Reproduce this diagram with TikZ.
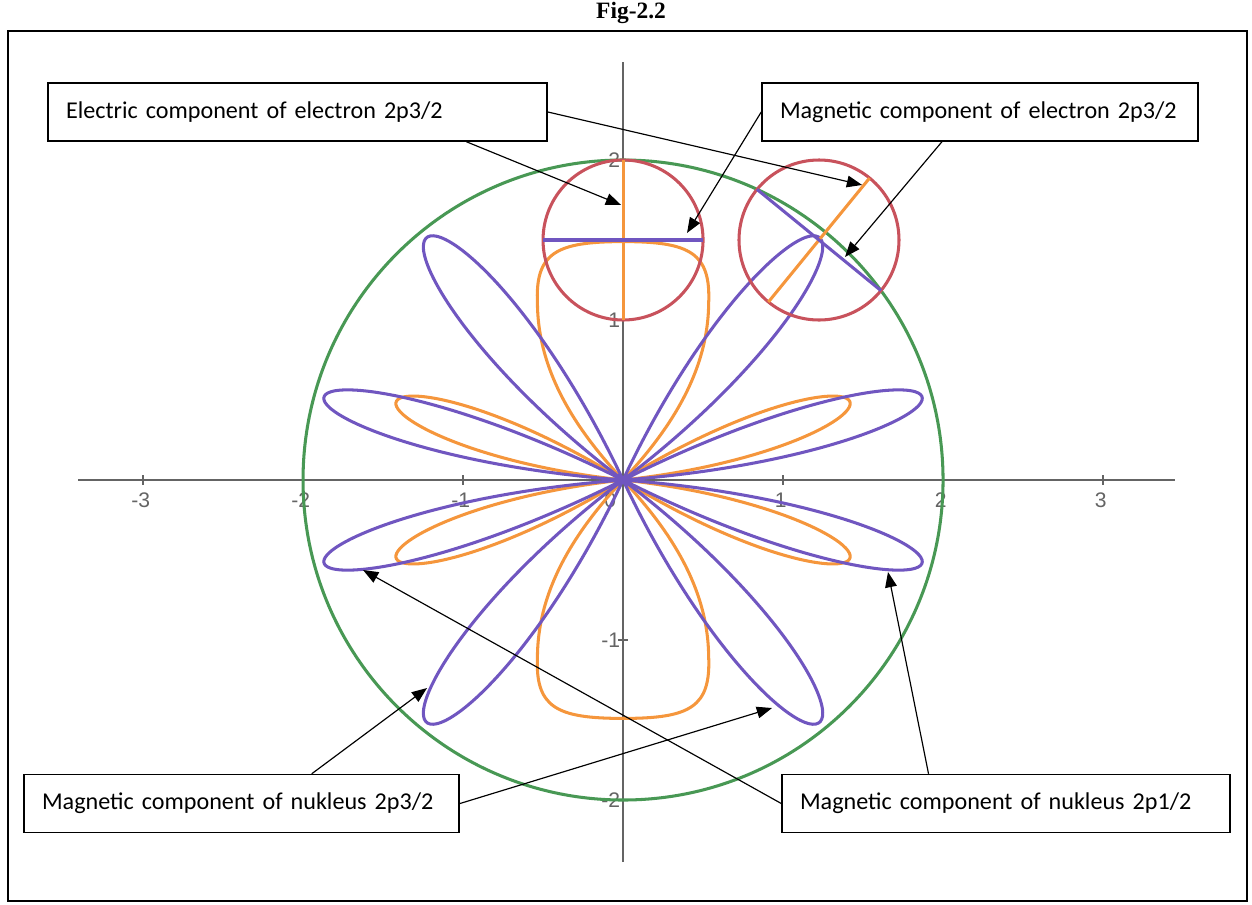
\documentclass[tikz,border=0pt]{standalone}
\usepackage{fontspec}
\setmainfont{Carlito}
\newfontfamily\axisfont{Liberation Sans}
\newfontfamily\titlefont{Liberation Serif}
\usetikzlibrary{arrows.meta}
\usetikzlibrary{positioning}
\definecolor{ringgreen}{RGB}{72,152,84}
\definecolor{ringred}{RGB}{200,82,92}
\definecolor{elecorange}{RGB}{245,150,60}
\definecolor{magnpurple}{RGB}{112,86,192}
\definecolor{axisgrey}{RGB}{100,100,100}

\begin{document}
\begin{tikzpicture}[x=2.4cm,y=2.4cm,
        lbl/.style={draw, rectangle, fill=white, line width=0.65pt, minimum height=0.87cm, inner xsep=0.27cm, align=left, font=\fontsize{10.3}{12}\selectfont},
        ticklbl/.style={font=\axisfont\fontsize{9}{10}\selectfont, text=axisgrey, inner sep=0pt},
        axisline/.style={draw=axisgrey, line width=0.85pt},
        elec/.style={draw=elecorange, line width=1.3pt},
        magn/.style={draw=magnpurple, line width=1.3pt},
        ring/.style={draw=ringred, line width=1.3pt},
        >={Triangle[length=6.5pt,width=5pt]}]
        \useasboundingbox (-3.894,-2.65) rectangle (3.931,3.0);
        \draw[line width=0.85pt] (-3.844,-2.631) rectangle (3.9,2.806);
        \node[font=\titlefont\bfseries\fontsize{10}{12}\selectfont] (title) at (0.05,2.92) {Fig-2.2};

        % axes
        \draw[axisline] (-3.406,0) -- (3.45,0);
        \draw[axisline] (0,-2.3875) -- (0,2.6125);
        \foreach \k in {-3,-2,-1,1,2,3} {
            \draw[axisline] (\k,-0.03) -- (\k,0.03);
            \node[ticklbl] (xl\k) at (\k-0.015,-0.125) {\k};
        }
        \foreach \k in {-2,-1,1,2} {
            \draw[axisline] (-0.03,\k) -- (0.03,\k);
            \node[ticklbl, anchor=east] (yl\k) at (-0.015,\k) {\k};
        }
        \node[ticklbl] (zero) at (-0.08,-0.125) {0};

        \draw[draw=ringgreen, line width=1.3pt] (0,0) circle (2);

        \foreach \a in {19,161,199,341}
            \draw[elec] plot[domain=-12.857:12.857, samples=60, smooth] ({\a+\x}:{1.5*cos(7*\x)});
        \foreach \s in {1,-1}
            \draw[elec, yscale=\s] (0,0) .. controls (0.3,0.32) and (0.53,0.68) .. (0.535,1.1)
                .. controls (0.55,1.42) and (0.42,1.49) .. (0,1.49)
                .. controls (-0.42,1.49) and (-0.55,1.42) .. (-0.535,1.1)
                .. controls (-0.53,0.68) and (-0.3,0.32) .. (0,0);

        \foreach \a in {15.5,164.5,195.5,344.5}
            \draw[magn] plot[domain=-11.25:11.25, samples=60, smooth] ({\a+\x}:{1.94*cos(8*\x)});
        \foreach \a in {51,129,231,309}
            \draw[magn] plot[domain=-13.846:13.846, samples=60, smooth] ({\a+\x}:{1.95*cos(6.5*\x)});

        \coordinate (tc) at (0,1.5);
        \coordinate (rc) at (1.2247,1.5);
        \draw[ring] (tc) circle (0.5);
        \draw[ring] (rc) circle (0.5);
        \draw[elec] ([shift={(0,-0.5)}]tc) -- ([shift={(0,0.5)}]tc);
        \draw[magn] ([shift={(-0.5,0)}]tc) -- ([shift={(0.5,0)}]tc);
        \draw[elec] ([shift={(230.77:0.5)}]rc) -- ([shift={(50.77:0.5)}]rc);
        \draw[magn] ([shift={(140.77:0.5)}]rc) -- ([shift={(-39.23:0.5)}]rc);

        \node[lbl, text width=6.945cm] (elbox) at (-2.034,2.3) {\mbox{Electric component of electron 2p3/2}};
        \node[lbl, text width=6.0cm] (mgbox) at (2.231,2.3) {\mbox{Magnetic component of electron 2p3/2}};
        \node[lbl, text width=5.985cm] (nkbox) at (-2.384,-2.022) {\mbox{Magnetic component of nukleus 2p3/2}};
        \node[lbl, text width=6.18cm] (npbox) at (2.394,-2.022) {\mbox{Magnetic component of nukleus 2p1/2}};

        \coordinate (t1) at (-0.0125,1.719);
        \coordinate (t2) at (1.494,1.844);
        \coordinate (t3) at (0.4,1.544);
        \coordinate (t4) at (1.3875,1.394);
        \coordinate (t5) at (-1.225,-1.3);
        \coordinate (t6) at (0.931,-1.425);
        \coordinate (t7) at (-1.625,-0.5625);
        \coordinate (t8) at (1.656,-0.575);

        \draw[->, line width=0.5pt] (elbox.-10.7) -- (t1);
        \draw[->, line width=0.5pt] (elbox.east) -- (t2);
        \draw[->, line width=0.5pt] (mgbox.west) -- (t3);
        \draw[->, line width=0.5pt] (mgbox.-142.6) -- (t4);
        \draw[->, line width=0.5pt] (nkbox.23) -- (t5);
        \draw[->, line width=0.5pt] (nkbox.east) -- (t6);
        \draw[->, line width=0.5pt] (npbox.west) -- (t7);
        \draw[->, line width=0.5pt] (npbox.159) -- (t8);
\end{tikzpicture}
\end{document}
